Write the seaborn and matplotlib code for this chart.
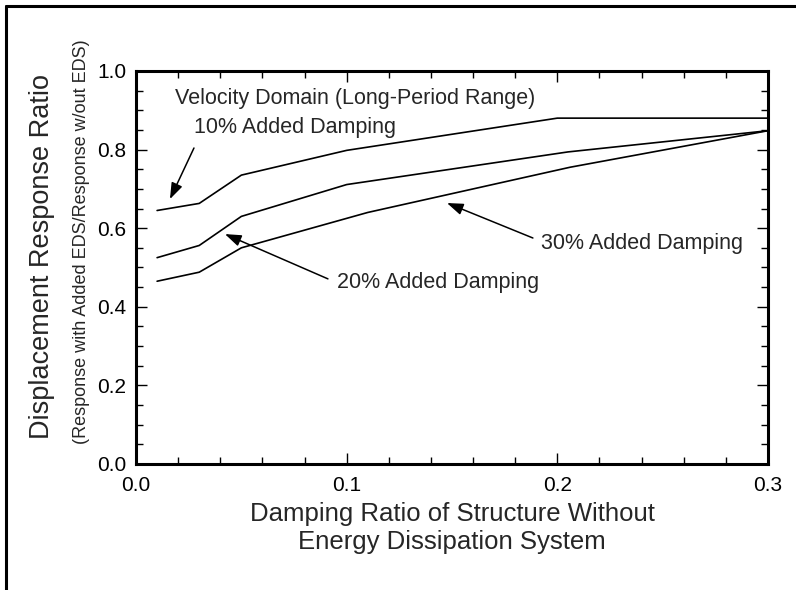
import numpy as np
import pandas as pd
import matplotlib
matplotlib.use("Agg")
import matplotlib.pyplot as plt
import matplotlib.ticker as mticker
from matplotlib.lines import Line2D
import seaborn as sns

# =============================================================================
# DATA
# =============================================================================

SERIES = ["10% Added Damping", "20% Added Damping", "30% Added Damping"]

X_10 = [0.01, 0.03, 0.05, 0.10, 0.20, 0.30]
Y_10 = [0.645, 0.663, 0.735, 0.798, 0.880, 0.880]

X_20 = [0.01, 0.03, 0.05, 0.10, 0.205, 0.30]
Y_20 = [0.525, 0.556, 0.630, 0.711, 0.794, 0.848]

X_30 = [0.01, 0.03, 0.05, 0.11, 0.206, 0.30]
Y_30 = [0.465, 0.488, 0.550, 0.640, 0.755, 0.848]

X_TICKS = [0.0, 0.1, 0.2, 0.3]
Y_TICKS = [0.0, 0.2, 0.4, 0.6, 0.8, 1.0]

# Font sizes
FS_TICK = 15
FS_XLABEL = 18.5
FS_YLABEL = 19.5
FS_SUBLABEL = 13
FS_ANNOT = 15.5

FONT = ["Liberation Sans", "DejaVu Sans"]


def build_frame() -> pd.DataFrame:
    parts = []
    for name, xs, ys in zip(SERIES, [X_10, X_20, X_30], [Y_10, Y_20, Y_30]):
        parts.append(pd.DataFrame({"x": xs, "y": ys, "series": name}))
    return pd.concat(parts, ignore_index=True)


def main() -> None:
    sns.set_theme(style="ticks")
    plt.rcParams["font.family"] = FONT

    fig = plt.figure(figsize=(7.96, 5.90), dpi=100)
    ax = fig.add_axes([0.1709, 0.2136, 0.7939, 0.6661])

    df = build_frame()
    sns.lineplot(
        data=df, x="x", y="y", hue="series", units="series",
        estimator=None, sort=False,
        palette={s: "black" for s in SERIES},
        linewidth=1.2, legend=False, ax=ax,
    )

    ax.set_xlim(0, 0.3)
    ax.set_ylim(0, 1.0)
    ax.set_xticks(X_TICKS)
    ax.set_yticks(Y_TICKS)
    ax.xaxis.set_minor_locator(mticker.MultipleLocator(0.02))
    ax.yaxis.set_minor_locator(mticker.MultipleLocator(0.05))
    ax.xaxis.set_major_formatter(mticker.FormatStrFormatter("%.1f"))
    ax.yaxis.set_major_formatter(mticker.FormatStrFormatter("%.1f"))

    ax.tick_params(which="both", direction="in", top=True, right=True,
                   color="black", labelcolor="black", labelsize=FS_TICK)
    ax.tick_params(which="major", length=8, width=1.0)
    ax.tick_params(axis="x", which="major", pad=9)
    ax.tick_params(axis="y", which="major", pad=7)
    ax.tick_params(which="minor", length=5, width=1.0)
    for sp in ax.spines.values():
        sp.set_linewidth(2.2)
        sp.set_color("black")

    ax.set_xlabel("Damping Ratio of Structure Without\nEnergy Dissipation System",
                  fontsize=FS_XLABEL, linespacing=1.2)
    ax.xaxis.set_label_coords(0.5, -0.096)
    ax.set_ylabel("")

    # two-line y label: main + sub
    fig.text(0.053, 0.565, "Displacement Response Ratio", rotation=90,
             ha="center", va="center", fontsize=FS_YLABEL, family=FONT)
    fig.text(0.103, 0.59, "(Response with Added EDS/Response w/out EDS)",
             rotation=90, ha="center", va="center", fontsize=FS_SUBLABEL,
             family=FONT)

    # annotations
    ax.text(0.0185, 0.931, "Velocity Domain (Long-Period Range)",
            fontsize=FS_ANNOT, va="center", ha="left")
    arrow = dict(arrowstyle="-|>,head_length=0.7,head_width=0.25",
                 color="black", lw=1.1, mutation_scale=14, shrinkA=0, shrinkB=0)
    ax.text(0.0275, 0.855, "10% Added Damping", fontsize=FS_ANNOT,
            va="center", ha="left")
    ax.annotate("", xy=(0.0161, 0.674), xytext=(0.0275, 0.804),
                arrowprops=arrow)
    ax.text(0.0954, 0.461, "20% Added Damping", fontsize=FS_ANNOT,
            va="center", ha="left")
    ax.annotate("", xy=(0.0422, 0.585), xytext=(0.0911, 0.471),
                arrowprops=arrow)
    ax.text(0.1922, 0.562, "30% Added Damping", fontsize=FS_ANNOT,
            va="center", ha="left")
    ax.annotate("", xy=(0.1476, 0.664), xytext=(0.1884, 0.575),
                arrowprops=arrow)

    # outer frame (top and left edges as in the reference)
    fig.add_artist(Line2D([6 / 796, 1.0], [1 - 6 / 590, 1 - 6 / 590],
                          transform=fig.transFigure, color="black", lw=2.2))
    fig.add_artist(Line2D([6 / 796, 6 / 796], [0.0, 1 - 6 / 590],
                          transform=fig.transFigure, color="black", lw=2.2))

    fig.savefig("out.png", dpi=100, facecolor="white")
    plt.close(fig)


if __name__ == "__main__":
    main()
